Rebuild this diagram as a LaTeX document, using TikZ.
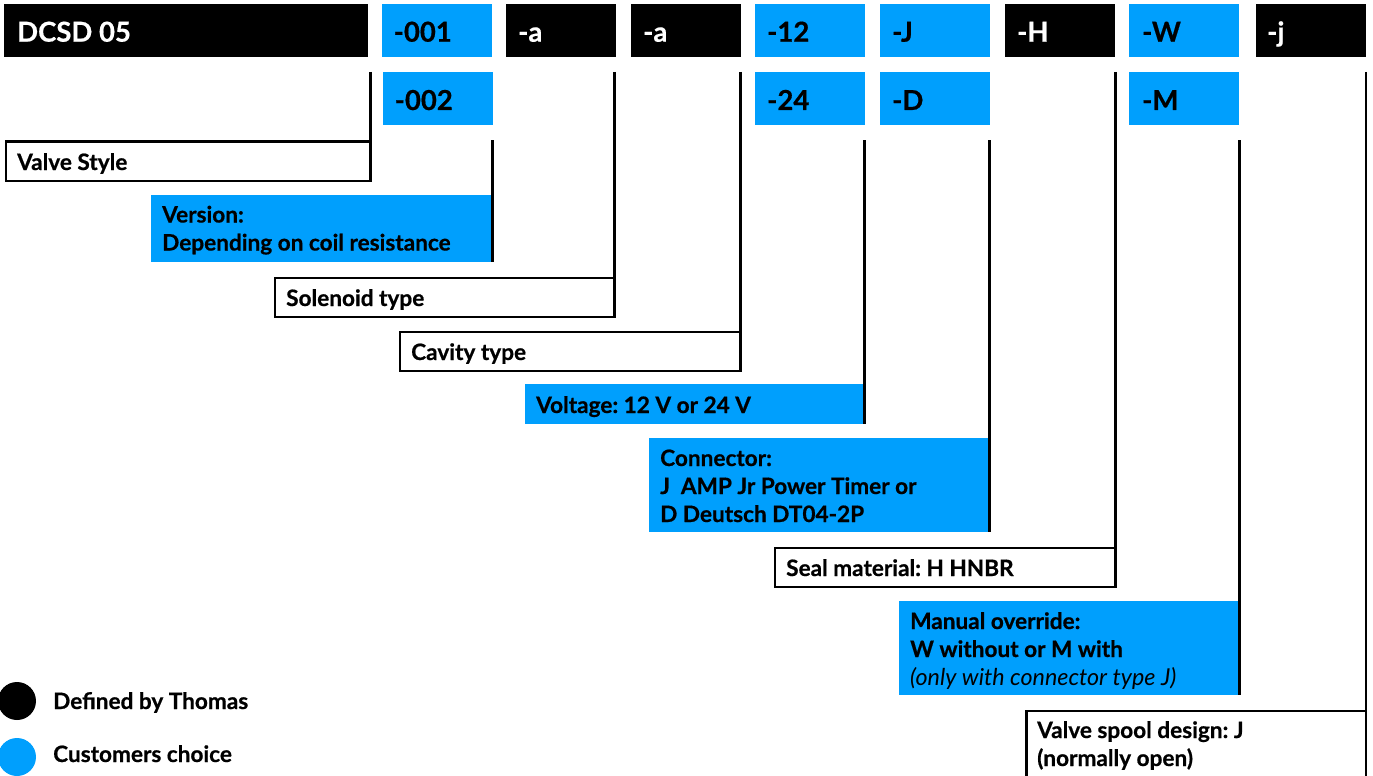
\documentclass[tikz,border=0pt]{standalone}
\usepackage{fontspec}
\setmainfont[BoldFeatures={FakeBold=0.6}]{Lato}
\definecolor{cblue}{HTML}{009FFD}
\tikzset{
 x=1pt,y=-1pt,
 head/.style={anchor=base west,font=\fontsize{27.5}{27}\selectfont\bfseries,inner sep=0pt},
 lab/.style={anchor=base west,inner sep=0pt,align=left,font=\fontsize{22.6}{28}\selectfont\bfseries},
 legend/.style={anchor=base west,inner sep=0pt,font=\fontsize{22.6}{27}\selectfont\bfseries},
 conn/.style={line width=2.8pt,black,line cap=butt},
 outl/.style={draw=black,line width=2.8pt,fill=white},
}
\begin{document}
\frenchspacing
\begin{tikzpicture}
\useasboundingbox (0,0) rectangle (1373,776);
% top rows
\fill[black] (4,4) rectangle (368,57);
\node[head,text=white] (dcsd) at (17,41.7) {DCSD 05};
\fill[cblue] (382,4) rectangle (492,57);
\node[head] (v1) at (393.5,41.7) {-001};
\fill[black] (506,4) rectangle (616,57);
\node[head,text=white] (s1) at (518,41.7) {-a};
\fill[black] (631,4) rectangle (741,57);
\node[head,text=white] (c1) at (643,41.7) {-a};
\fill[cblue] (755,4) rectangle (865,57);
\node[head] (u1) at (767,41.7) {-12};
\fill[cblue] (880,4) rectangle (990,57);
\node[head] (j1) at (892,41.7) {-J};
\fill[black] (1005,4) rectangle (1115,57);
\node[head,text=white] (h1) at (1017,41.7) {-H};
\fill[cblue] (1129,4) rectangle (1239,57);
\node[head] (w1) at (1142,41.7) {-W};
\fill[black] (1256,4) rectangle (1366,57);
\node[head,text=white] (j2) at (1267,41.7) {-j};
\fill[cblue] (383,72) rectangle (493,125);
\node[head] (v2) at (394.5,110) {-002};
\fill[cblue] (755,72) rectangle (865,125);
\node[head] (u2) at (767,110) {-24};
\fill[cblue] (880,72) rectangle (990,125);
\node[head] (d2) at (892,110) {-D};
\fill[cblue] (1129,72) rectangle (1239,125);
\node[head] (m2) at (1142,110) {-M};
% label boxes
\draw[outl] (6,141.5) rectangle (370.7,181);
\node[lab] (valve) at (17,170) {Valve Style};
\fill[cblue] (151,195) rectangle (493,262);
\node[lab] (version) at (162,250.5) {Version:\\Depending on coil resistance};
\draw[outl] (275,278) rectangle (615,317);
\node[lab] (sol) at (286,306) {Solenoid type};
\draw[outl] (400,332) rectangle (741,371);
\node[lab] (cav) at (411,360) {Cavity type};
\fill[cblue] (525,384) rectangle (865,424);
\node[lab] (volt) at (536,413) {Voltage: 12 V or 24 V};
\fill[cblue] (649,438) rectangle (990,532);
\node[lab] (conn) at (660,522) {Connector:\\J\ \ AMP Jr Power Timer or\\D Deutsch DT04-2P};
\draw[outl] (775,548) rectangle (1116,587);
\node[lab] (seal) at (786,576) {Seal material: H HNBR};
\fill[cblue] (899,601) rectangle (1240,695);
\node[lab] (man) at (910,685) {Manual override:\\W without or M with\\{\fontsize{23.3}{28}\selectfont\normalfont\itshape (only with connector type J)}};
\draw[outl] (1026.5,711) rectangle (1366,790);
\node[lab] (spool) at (1037,766) {Valve spool design: J\\(normally open)};
% connectors
\coordinate (a1) at (370.7,72); \coordinate (a2) at (370.7,181);
\coordinate (b1) at (492.5,140); \coordinate (b2) at (492.5,262);
\coordinate (c1t) at (614.7,72); \coordinate (c2t) at (614.7,317);
\coordinate (d1) at (740.7,72); \coordinate (d2t) at (740.7,371);
\coordinate (e1) at (864.7,140); \coordinate (e2) at (864.7,424);
\coordinate (f1) at (989.7,140); \coordinate (f2) at (989.7,532);
\coordinate (g1) at (1115.7,72); \coordinate (g2) at (1115.7,587);
\coordinate (h1t) at (1239.7,140); \coordinate (h2) at (1239.7,695);
\coordinate (i1) at (1366,72); \coordinate (i2) at (1366,711);
\foreach \p/\q in {a1/a2,b1/b2,c1t/c2t,d1/d2t,e1/e2,f1/f2,g1/g2,h1t/h2,i1/i2}{\draw[conn] (\p) -- (\q);}
% legend
\fill[black] (17,701) circle (19);
\node[legend] (defined) at (53,709) {Defined by Thomas};
\fill[cblue] (17,757) circle (19);
\node[legend] (cust) at (53,762) {Customers choice};
\end{tikzpicture}
\end{document}
